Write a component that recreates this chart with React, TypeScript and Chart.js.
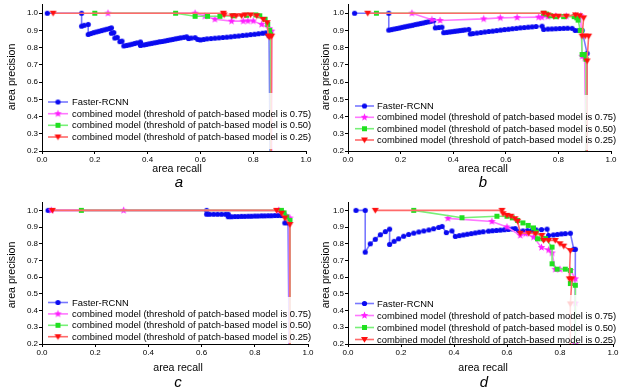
import React, { useEffect, useRef } from 'react';
import { Chart, registerables } from 'chart.js';

Chart.register(...registerables);

type Pt = [number, number];

// ---------- data ----------
const xTickValues = [0.0, 0.2, 0.4, 0.6, 0.8, 1.0];
const yTickValues = [0.2, 0.3, 0.4, 0.5, 0.6, 0.7, 0.8, 0.9, 1.0];
const seriesNames = [
  'Faster-RCNN',
  'combined model (threshold of patch-based model is 0.75)',
  'combined model (threshold of patch-based model is 0.50)',
  'combined model (threshold of patch-based model is 0.25)',
];
const panelLetters = ['a', 'b', 'c', 'd'];
const xAxisTitle = 'area recall';
const yAxisTitle = 'area precision';

// panel a
const aBlue: Pt[] = [
  [0.02, 1.0], [0.15, 1.0], [0.15, 0.925], [0.16, 0.93], [0.175, 0.935], [0.175, 0.877], [0.185, 0.882],
  [0.195, 0.887], [0.205, 0.891], [0.215, 0.895], [0.225, 0.899], [0.235, 0.903], [0.245, 0.907], [0.255, 0.911],
  [0.263, 0.915], [0.263, 0.884], [0.272, 0.888], [0.276, 0.856], [0.285, 0.86], [0.295, 0.835], [0.303, 0.838],
  [0.31, 0.81], [0.32, 0.813], [0.33, 0.816], [0.34, 0.82], [0.35, 0.824], [0.36, 0.828], [0.373, 0.833],
  [0.373, 0.813], [0.385, 0.816], [0.395, 0.819], [0.405, 0.822], [0.415, 0.825], [0.425, 0.828], [0.435, 0.831],
  [0.445, 0.834], [0.455, 0.836], [0.465, 0.839], [0.475, 0.842], [0.485, 0.845], [0.495, 0.848], [0.505, 0.851],
  [0.515, 0.854], [0.525, 0.857], [0.537, 0.86], [0.548, 0.863], [0.555, 0.853], [0.565, 0.856], [0.58, 0.858],
  [0.59, 0.848], [0.6, 0.845], [0.612, 0.848], [0.625, 0.851], [0.64, 0.853], [0.655, 0.855], [0.67, 0.857],
  [0.685, 0.859], [0.7, 0.861], [0.715, 0.863], [0.73, 0.866], [0.745, 0.868], [0.76, 0.871], [0.775, 0.873],
  [0.79, 0.876], [0.805, 0.878], [0.82, 0.881], [0.835, 0.884], [0.848, 0.886], [0.855, 0.882], [0.86, 0.87],
  [0.865, 0.0],
];
const aMagenta: Pt[] = [
  [0.25, 1.0], [0.58, 1.0], [0.617, 0.983], [0.655, 0.965], [0.718, 0.954], [0.762, 0.954], [0.78, 0.955],
  [0.8, 0.955], [0.832, 0.935], [0.861, 0.91], [0.87, 0.896], [0.87, 0.0],
];
const aGreen: Pt[] = [
  [0.2, 1.0], [0.506, 1.0], [0.58, 0.982], [0.627, 0.982], [0.674, 0.982], [0.724, 0.985], [0.775, 0.988],
  [0.81, 0.99], [0.825, 0.985], [0.845, 0.965], [0.855, 0.935], [0.862, 0.9], [0.866, 0.875], [0.866, 0.0],
];
const aRed: Pt[] = [
  [0.042, 1.0], [0.687, 1.0], [0.69, 0.99], [0.72, 0.985], [0.735, 0.985], [0.756, 0.985], [0.769, 0.99],
  [0.79, 0.99], [0.813, 0.985], [0.838, 0.964], [0.853, 0.945], [0.857, 0.867], [0.862, 0.862], [0.87, 0.867],
  [0.867, 0.0],
];

// panel b
const bBlue: Pt[] = [
  [0.025, 1.0], [0.155, 1.0], [0.155, 0.902], [0.165, 0.905], [0.175, 0.908], [0.185, 0.911], [0.195, 0.914],
  [0.205, 0.918], [0.215, 0.921], [0.225, 0.924], [0.235, 0.927], [0.245, 0.93], [0.255, 0.934], [0.265, 0.937],
  [0.275, 0.94], [0.285, 0.943], [0.295, 0.947], [0.305, 0.95], [0.315, 0.953], [0.326, 0.957], [0.332, 0.915],
  [0.345, 0.917], [0.357, 0.919], [0.364, 0.887], [0.375, 0.889], [0.385, 0.891], [0.395, 0.893], [0.405, 0.895],
  [0.415, 0.897], [0.425, 0.899], [0.435, 0.901], [0.445, 0.903], [0.459, 0.906], [0.465, 0.88], [0.475, 0.882],
  [0.49, 0.885], [0.505, 0.888], [0.52, 0.891], [0.535, 0.894], [0.55, 0.896], [0.565, 0.899], [0.58, 0.902],
  [0.595, 0.905], [0.61, 0.907], [0.625, 0.91], [0.64, 0.912], [0.655, 0.915], [0.67, 0.917], [0.685, 0.919],
  [0.7, 0.921], [0.715, 0.923], [0.738, 0.925], [0.744, 0.906], [0.76, 0.908], [0.775, 0.909], [0.79, 0.91],
  [0.805, 0.911], [0.82, 0.912], [0.835, 0.913], [0.852, 0.912], [0.864, 0.9], [0.877, 0.9], [0.89, 0.9],
  [0.909, 0.767], [0.909, 0.0],
];
const bMagenta: Pt[] = [
  [0.243, 1.0], [0.319, 0.962], [0.35, 0.958], [0.516, 0.967], [0.579, 0.973], [0.643, 0.975], [0.725, 0.977],
  [0.737, 0.977], [0.76, 0.98], [0.79, 0.983], [0.83, 0.983], [0.865, 0.985], [0.885, 0.985], [0.89, 0.75],
  [0.9, 0.74], [0.905, 0.0],
];
const bGreen: Pt[] = [
  [0.108, 1.0], [0.744, 1.0], [0.755, 0.995], [0.77, 0.985], [0.79, 0.98], [0.82, 0.98], [0.86, 0.98],
  [0.87, 0.973], [0.875, 0.96], [0.883, 0.9], [0.888, 0.9], [0.89, 0.76], [0.9, 0.76], [0.905, 0.733],
  [0.905, 0.0],
];
const bRed: Pt[] = [
  [0.075, 1.0], [0.744, 1.0], [0.76, 0.99], [0.782, 0.983], [0.8, 0.983], [0.83, 0.983], [0.865, 0.99],
  [0.88, 0.985], [0.896, 0.973], [0.89, 0.867], [0.902, 0.867], [0.915, 0.867], [0.909, 0.723], [0.909, 0.0],
];

// panel c
const cBlue: Pt[] = [
  [0.023, 1.0], [0.619, 1.0], [0.619, 0.977], [0.63, 0.977], [0.645, 0.977], [0.66, 0.977], [0.675, 0.977],
  [0.69, 0.977], [0.7, 0.977], [0.7, 0.962], [0.712, 0.962], [0.725, 0.963], [0.737, 0.963], [0.75, 0.964],
  [0.762, 0.964], [0.775, 0.965], [0.787, 0.965], [0.8, 0.966], [0.812, 0.966], [0.825, 0.967], [0.837, 0.967],
  [0.85, 0.968], [0.862, 0.968], [0.875, 0.969], [0.887, 0.969], [0.9, 0.969], [0.913, 0.969], [0.913, 0.925],
  [0.925, 0.925], [0.93, 0.0],
];
const cMagenta: Pt[] = [
  [0.035, 1.0], [0.307, 1.0], [0.89, 1.0], [0.917, 0.969], [0.932, 0.954], [0.93, 0.0],
];
const cGreen: Pt[] = [
  [0.148, 1.0], [0.9, 1.0], [0.91, 0.985], [0.92, 0.96], [0.932, 0.94], [0.932, 0.0],
];
const cRed: Pt[] = [
  [0.039, 1.0], [0.882, 1.0], [0.9, 0.983], [0.913, 0.954], [0.932, 0.915], [0.932, 0.0],
];

// panel d
const dBlue: Pt[] = [
  [0.03, 1.0], [0.065, 1.0], [0.065, 0.75], [0.084, 0.8], [0.103, 0.827], [0.122, 0.854], [0.141, 0.873],
  [0.157, 0.888], [0.157, 0.796], [0.174, 0.815], [0.191, 0.83], [0.21, 0.845], [0.229, 0.856], [0.248, 0.864],
  [0.267, 0.871], [0.286, 0.877], [0.305, 0.883], [0.323, 0.89], [0.342, 0.898], [0.355, 0.904], [0.371, 0.867],
  [0.392, 0.877], [0.405, 0.844], [0.42, 0.849], [0.435, 0.853], [0.45, 0.857], [0.465, 0.861], [0.48, 0.865],
  [0.495, 0.869], [0.51, 0.872], [0.53, 0.876], [0.545, 0.878], [0.56, 0.88], [0.575, 0.882], [0.59, 0.884],
  [0.605, 0.886], [0.62, 0.889], [0.631, 0.891], [0.644, 0.875], [0.66, 0.877], [0.677, 0.879], [0.694, 0.881],
  [0.71, 0.883], [0.73, 0.885], [0.751, 0.888], [0.757, 0.85], [0.775, 0.853], [0.79, 0.856], [0.805, 0.859],
  [0.82, 0.861], [0.839, 0.863], [0.852, 0.767], [0.858, 0.767], [0.856, 0.0],
];
const dMagenta: Pt[] = [
  [0.377, 0.952], [0.543, 0.933], [0.6, 0.9], [0.65, 0.85], [0.67, 0.86], [0.7, 0.84], [0.73, 0.778],
  [0.757, 0.763], [0.77, 0.745], [0.782, 0.647], [0.8, 0.647], [0.84, 0.64], [0.858, 0.59], [0.858, 0.445],
  [0.858, 0.2], [0.858, 0.0],
];
const dGreen: Pt[] = [
  [0.248, 1.0], [0.43, 0.956], [0.562, 0.965], [0.6, 0.965], [0.62, 0.955], [0.64, 0.94], [0.66, 0.925],
  [0.68, 0.91], [0.7, 0.895], [0.71, 0.87], [0.715, 0.83], [0.735, 0.83], [0.745, 0.831], [0.77, 0.78],
  [0.77, 0.68], [0.789, 0.648], [0.82, 0.648], [0.839, 0.64], [0.839, 0.562], [0.858, 0.552], [0.858, 0.0],
];
const dRed: Pt[] = [
  [0.103, 1.0], [0.581, 1.0], [0.585, 0.98], [0.6, 0.97], [0.615, 0.965], [0.63, 0.95], [0.64, 0.935],
  [0.65, 0.863], [0.682, 0.863], [0.707, 0.86], [0.732, 0.85], [0.738, 0.82], [0.757, 0.82], [0.782, 0.82],
  [0.8, 0.8], [0.814, 0.786], [0.839, 0.759], [0.835, 0.59], [0.845, 0.59], [0.839, 0.44], [0.839, 0.0],
];

const panelSeries: Pt[][][] = [
  [aBlue, aMagenta, aGreen, aRed],
  [bBlue, bMagenta, bGreen, bRed],
  [cBlue, cMagenta, cGreen, cRed],
  [dBlue, dMagenta, dGreen, dRed],
];

// ---------- styles / layout ----------
const FONT = "'Liberation Sans', Arial, Helvetica, sans-serif";
const markerKinds = ['circle', 'star', 'square', 'tri'];
const markerColors = ['#0a0af0', '#ff20ff', '#20e020', '#ff1010'];
const lineColors = ['#7878ff', '#ff78ff', '#78f078', '#ff6a6a'];

interface Layout {
  left: number; top: number; w: number; h: number;
  padTop: number; padRight: number; yW: number; xH: number;
  yLab: [number, number]; xLab: [number, number]; letter: [number, number];
  box: [number, number, number, number]; lx0: number; lx1: number; tx: number; rows: number[];
}

const layouts: Layout[] = [
  {
    left: 0, top: 0, w: 314, h: 195, padTop: 3, padRight: 8, yW: 42, xH: 44,
    yLab: [12, 77], xLab: [177, 169], letter: [179, 182],
    box: [44, 93, 270, 56], lx0: 48, lx1: 68, tx: 72, rows: [102, 113.7, 125.3, 137],
  },
  {
    left: 314, top: 0, w: 315, h: 195, padTop: 3, padRight: 18, yW: 34, xH: 44,
    yLab: [12, 77], xLab: [169, 169], letter: [169, 182],
    box: [37, 95, 278, 55], lx0: 41, lx1: 60, tx: 63, rows: [106, 117.3, 128.7, 140],
  },
  {
    left: 0, top: 195, w: 314, h: 194, padTop: 7, padRight: 6, yW: 42, xH: 45,
    yLab: [12, 80], xLab: [178, 173], letter: [178, 187],
    box: [44, 102, 270, 46], lx0: 48, lx1: 68, tx: 72, rows: [107.5, 118.9, 130.3, 141.7],
  },
  {
    left: 314, top: 195, w: 315, h: 194, padTop: 7, padRight: 16, yW: 34, xH: 45,
    yLab: [12, 80], xLab: [169, 173], letter: [170, 187],
    box: [37, 100, 278, 48], lx0: 41, lx1: 60, tx: 63, rows: [108.5, 120.5, 132.5, 144.5],
  },
];

const markerCache: Record<string, HTMLCanvasElement> = {};
function makeMarker(kind: string, color: string): HTMLCanvasElement {
  const key = kind + color;
  if (markerCache[key]) return markerCache[key];
  const c = document.createElement('canvas');
  c.width = 9;
  c.height = 9;
  const g = c.getContext('2d')!;
  g.fillStyle = color;
  const cx = 4.5, cy = 4.5;
  g.beginPath();
  if (kind === 'circle') {
    g.arc(cx, cy, 2.6, 0, Math.PI * 2);
  } else if (kind === 'square') {
    g.rect(cx - 2.5, cy - 2.5, 5, 5);
  } else if (kind === 'tri') {
    g.moveTo(cx - 3.5, cy - 2.5);
    g.lineTo(cx + 3.5, cy - 2.5);
    g.lineTo(cx, cy + 3.3);
    g.closePath();
  } else {
    for (let i = 0; i < 10; i++) {
      const r = i % 2 === 0 ? 3.9 : 1.7;
      const a = -Math.PI / 2 + (i * Math.PI) / 5;
      const px = cx + r * Math.cos(a);
      const py = cy + r * Math.sin(a);
      if (i === 0) g.moveTo(px, py); else g.lineTo(px, py);
    }
    g.closePath();
  }
  g.fill();
  markerCache[key] = c;
  return c;
}

function Panel({ idx }: { idx: number }) {
  const ref = useRef<HTMLCanvasElement>(null);
  const L = layouts[idx];
  useEffect(() => {
    if (!ref.current) return;
    const series = panelSeries[idx];
    const markers = markerKinds.map((k, i) => makeMarker(k, markerColors[i]));
    const overlay = {
      id: 'overlay' + idx,
      afterDatasetsDraw(chart: any) {
        const ctx: CanvasRenderingContext2D = chart.ctx;
        ctx.save();
        // legend
        ctx.fillStyle = 'rgba(255,255,255,0.82)';
        ctx.fillRect(L.box[0], L.box[1], L.box[2], L.box[3]);
        seriesNames.forEach((name, i) => {
          const y = L.rows[i];
          ctx.strokeStyle = lineColors[i];
          ctx.lineWidth = 1.6;
          ctx.beginPath();
          ctx.moveTo(L.lx0, y);
          ctx.lineTo(L.lx1, y);
          ctx.stroke();
          const m = markers[i];
          ctx.drawImage(m, (L.lx0 + L.lx1) / 2 - m.width / 2, y - m.height / 2);
          ctx.fillStyle = '#000';
          ctx.font = `9.4px ${FONT}`;
          ctx.textAlign = 'left';
          ctx.textBaseline = 'middle';
          ctx.fillText(name, L.tx, y + 0.5);
        });
        // axis titles
        ctx.fillStyle = '#000';
        ctx.font = `10.6px ${FONT}`;
        ctx.textAlign = 'center';
        ctx.textBaseline = 'middle';
        ctx.fillText(xAxisTitle, L.xLab[0], L.xLab[1]);
        ctx.save();
        ctx.translate(L.yLab[0], L.yLab[1]);
        ctx.rotate(-Math.PI / 2);
        ctx.fillText(yAxisTitle, 0, 0);
        ctx.restore();
        ctx.font = `italic 15px ${FONT}`;
        ctx.fillText(panelLetters[idx], L.letter[0], L.letter[1] + 1);
        ctx.restore();
      },
    };
    const chart = new Chart(ref.current, {
      type: 'line',
      data: {
        datasets: series.map((pts, i) => ({
          label: seriesNames[i],
          data: pts.map(([x, y]) => ({ x, y })),
          borderColor: lineColors[i],
          borderWidth: 1.6,
          pointStyle: markers[i] as any,
          pointRadius: 3,
          pointHoverRadius: 3,
          fill: false,
          tension: 0,
          order: 3 - i,
        })),
      },
      options: {
        animation: false,
        responsive: false,
        maintainAspectRatio: false,
        layout: { padding: { left: 0, top: L.padTop, right: L.padRight, bottom: 0 } },
        plugins: { legend: { display: false }, tooltip: { enabled: false }, title: { display: false } },
        events: [],
        scales: {
          x: {
            type: 'linear',
            min: 0,
            max: 1,
            afterBuildTicks: (s: any) => { s.ticks = xTickValues.map((v) => ({ value: v })); },
            afterFit: (s: any) => {
              s.height = L.xH;
              s.paddingLeft = 0; s.paddingRight = 0; s.paddingTop = 0; s.paddingBottom = 0;
            },
            ticks: {
              callback: (v: any) => Number(v).toFixed(1),
              font: { size: 8, family: FONT },
              color: '#000',
              padding: 1,
              maxRotation: 0,
              autoSkip: false,
            },
            grid: { drawOnChartArea: false, drawTicks: true, tickLength: 3, color: '#000', lineWidth: 1 },
            border: { display: true, color: '#000', width: 1 },
          },
          y: {
            type: 'linear',
            min: 0.2,
            max: 1.05,
            afterBuildTicks: (s: any) => { s.ticks = yTickValues.map((v) => ({ value: v })); },
            afterFit: (s: any) => {
              s.width = L.yW;
              s.paddingLeft = 0; s.paddingRight = 0; s.paddingTop = 0; s.paddingBottom = 0;
            },
            ticks: {
              callback: (v: any) => Number(v).toFixed(1),
              font: { size: 8, family: FONT },
              color: '#000',
              padding: 1,
              autoSkip: false,
            },
            grid: { drawOnChartArea: false, drawTicks: true, tickLength: 3, color: '#000', lineWidth: 1 },
            border: { display: true, color: '#000', width: 1 },
          },
        },
      } as any,
      plugins: [overlay],
    });
    return () => chart.destroy();
  }, [idx]);
  return (
    <canvas
      ref={ref}
      width={L.w}
      height={L.h}
      style={{ position: 'absolute', left: L.left, top: L.top, width: L.w, height: L.h, display: 'block' }}
    />
  );
}

export default function App() {
  return (
    <div style={{ position: 'fixed', left: 0, top: 0, width: 629, height: 389, background: '#fff', overflow: 'hidden' }}>
      {[0, 1, 2, 3].map((i) => (
        <Panel key={i} idx={i} />
      ))}
    </div>
  );
}
